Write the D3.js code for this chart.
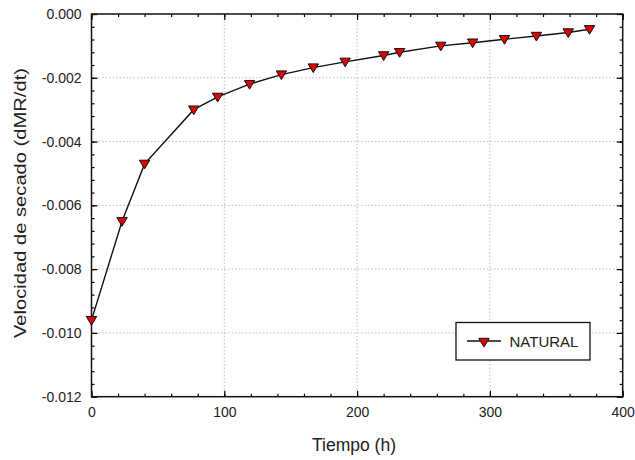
<!DOCTYPE html>
<html>
<head>
<meta charset="utf-8">
<script src="https://cdn.jsdelivr.net/npm/d3@7"></script>
<style>
  html, body { margin: 0; padding: 0; background: #fff; }
  svg { display: block; font-family: "Liberation Sans", Arial, sans-serif; }
</style>
</head>
<body>
<svg id="chart" width="635" height="460"></svg>
<script>
const tiempo = [0, 23, 40, 77, 95, 119, 143, 167, 191, 220, 232, 263, 287, 311, 335, 359, 375];
const velocidad = [-0.0096, -0.0065, -0.0047, -0.0030, -0.0026, -0.0022, -0.0019, -0.00168, -0.0015, -0.0013, -0.0012, -0.0010, -0.0009, -0.00079, -0.00069, -0.00058, -0.00048];
const seriesName = "NATURAL";
const xTicks = [0, 100, 200, 300, 400];
const yTicks = [0, -0.002, -0.004, -0.006, -0.008, -0.010, -0.012];
const xLabel = "Tiempo (h)";
const yLabel = "Velocidad de secado (dMR/dt)";

const svg = d3.select("#chart");
const m = { left: 91.5, top: 14, right: 622.7, bottom: 396.7 };
const x = d3.scaleLinear().domain([0, 400]).range([m.left, m.right]);
const y = d3.scaleLinear().domain([-0.012, 0]).range([m.bottom, m.top]);
const W = m.right - m.left, H = m.bottom - m.top;

// grid
const grid = svg.append("g").attr("stroke", "#bdbdbd").attr("stroke-width", 1).attr("stroke-dasharray", "1.5,2");
grid.selectAll("line.gx").data(xTicks.slice(1, -1)).join("line")
  .attr("x1", d => x(d)).attr("x2", d => x(d)).attr("y1", m.top).attr("y2", m.bottom);
grid.selectAll("line.gy").data(yTicks.slice(1, -1)).join("line")
  .attr("x1", m.left).attr("x2", m.right).attr("y1", d => y(d)).attr("y2", d => y(d));

// axes
const fmtY = d => d === 0 ? "0.000" : d3.format(".3f")(d).replace("−", "-");
const minorX = d3.range(0, 401, 20);
const minorY = d3.range(0, 31).map(i => -0.0004 * i);

function styleAxis(g) {
  g.select(".domain").remove();
  g.selectAll("line").attr("stroke", "#000").attr("stroke-width", 1.2);
  g.selectAll("text").attr("font-size", 14).attr("fill", "#222");
}

// minor ticks
svg.append("g").attr("transform", `translate(0,${m.bottom})`)
  .call(d3.axisBottom(x).tickValues(minorX).tickSize(-3).tickFormat(""))
  .call(styleAxis);
svg.append("g").attr("transform", `translate(0,${m.top})`)
  .call(d3.axisTop(x).tickValues(minorX).tickSize(-3).tickFormat(""))
  .call(styleAxis);
svg.append("g").attr("transform", `translate(${m.left},0)`)
  .call(d3.axisLeft(y).tickValues(minorY).tickSize(-3).tickFormat(""))
  .call(styleAxis);
svg.append("g").attr("transform", `translate(${m.right},0)`)
  .call(d3.axisRight(y).tickValues(minorY).tickSize(-3).tickFormat(""))
  .call(styleAxis);

// major ticks with labels
svg.append("g").attr("transform", `translate(0,${m.bottom})`)
  .call(d3.axisBottom(x).tickValues(xTicks).tickSize(-6).tickPadding(10).tickFormat(d3.format("d")))
  .call(styleAxis);
svg.append("g").attr("transform", `translate(0,${m.top})`)
  .call(d3.axisTop(x).tickValues(xTicks).tickSize(-6).tickFormat(""))
  .call(styleAxis);
svg.append("g").attr("transform", `translate(${m.left},0)`)
  .call(d3.axisLeft(y).tickValues(yTicks).tickSize(-6).tickPadding(10).tickFormat(fmtY))
  .call(styleAxis);
svg.append("g").attr("transform", `translate(${m.right},0)`)
  .call(d3.axisRight(y).tickValues(yTicks).tickSize(-6).tickFormat(""))
  .call(styleAxis);

// frame
svg.append("rect").attr("x", m.left).attr("y", m.top).attr("width", W).attr("height", H)
  .attr("fill", "none").attr("stroke", "#111").attr("stroke-width", 1.5);

// line
const data = tiempo.map((t, i) => ({ t, v: velocidad[i] }));
svg.append("path").datum(data)
  .attr("fill", "none").attr("stroke", "#111").attr("stroke-width", 1.4)
  .attr("d", d3.line().x(d => x(d.t)).y(d => y(d.v)));

const tri = "M-5.2,-3.7 L5.2,-3.7 L0,5 Z";
svg.append("g").selectAll("path").data(data).join("path")
  .attr("transform", d => `translate(${x(d.t)},${y(d.v)})`)
  .attr("d", tri).attr("fill", "#e00000").attr("stroke", "#111").attr("stroke-width", 1);

// legend
const lg = svg.append("g");
lg.append("rect").attr("x", 456).attr("y", 322.5).attr("width", 134).attr("height", 37.5)
  .attr("fill", "#fff").attr("stroke", "#111").attr("stroke-width", 1.3);
lg.append("line").attr("x1", 467).attr("x2", 501).attr("y1", 341).attr("y2", 341)
  .attr("stroke", "#111").attr("stroke-width", 1.4);
lg.append("path").attr("transform", "translate(484,342)").attr("d", tri)
  .attr("fill", "#e00000").attr("stroke", "#111").attr("stroke-width", 1);
lg.append("text").attr("x", 509.5).attr("y", 346.5).attr("font-size", 15).attr("fill", "#222").text(seriesName);

// axis titles
svg.append("text").attr("x", 354).attr("y", 451)
  .attr("text-anchor", "middle").attr("font-size", 17.5).attr("fill", "#222").text(xLabel);
svg.append("text").attr("transform", `translate(26,203) rotate(-90)`)
  .attr("text-anchor", "middle").attr("font-size", 17)
  .attr("textLength", 270).attr("lengthAdjust", "spacingAndGlyphs")
  .attr("fill", "#222").text(yLabel);
</script>
</body>
</html>
